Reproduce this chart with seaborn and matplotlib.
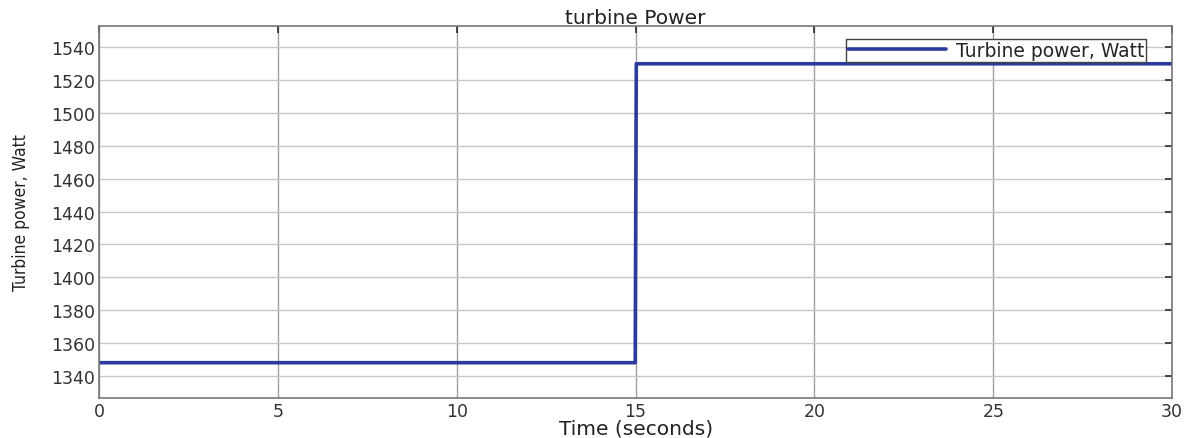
import numpy as np
import pandas as pd
import matplotlib
matplotlib.use("Agg")
import matplotlib.pyplot as plt
import seaborn as sns

# --- donnees ---
temps = [0.0, 14.99, 15.02, 30.0]
puissance = [1348.0, 1348.0, 1530.0, 1530.0]
x_ticks = [0, 5, 10, 15, 20, 25, 30]
y_ticks = [1340, 1360, 1380, 1400, 1420, 1440, 1460, 1480, 1500, 1520, 1540]

sns.set_theme(style="whitegrid")
plt.rcParams['font.family'] = ['DejaVu Sans']

df = pd.DataFrame({"Time": temps, "Power": puissance})

fig = plt.figure(figsize=(11.9, 4.39), dpi=100)
ax = fig.add_axes([0.0832, 0.0911, 0.9018, 0.8474])

sns.lineplot(data=df, x="Time", y="Power", ax=ax, color="#2b3a9c", linewidth=2.6,
             label="Turbine power, Watt", estimator=None, sort=False)

ax.set_xlim(0, 30)
ax.set_ylim(1326.5, 1553)
ax.set_xticks(x_ticks)
ax.set_yticks(y_ticks)
ax.tick_params(direction="in", length=5, top=True, right=True, labelsize=12.5,
               colors="#333333", pad=3)
ax.grid(True, color="#c8c8c8", linewidth=1.0)
ax.xaxis.grid(True, color="#a0a0a0", linewidth=1.0)
for s in ax.spines.values():
    s.set_color("#777777")
    s.set_linewidth(1.2)

ax.set_title("turbine Power", fontsize=14.5, color="#222222", pad=2)
ax.set_xlabel("Time (seconds)", fontsize=14.5, color="#222222", labelpad=-1)
ax.set_ylabel("Turbine power, Watt", fontsize=12.5, color="#222222",
              fontstretch="condensed", labelpad=15)

leg = ax.legend(loc="upper right", bbox_to_anchor=(0.9758, 0.965), frameon=True,
                fancybox=False, edgecolor="#444444", fontsize=13.5, handlelength=5.2,
                handletextpad=0.55, borderpad=0.1, borderaxespad=0, framealpha=1)
leg.get_frame().set_linewidth(1.0)

plt.savefig("out.png", dpi=100)
plt.close()
